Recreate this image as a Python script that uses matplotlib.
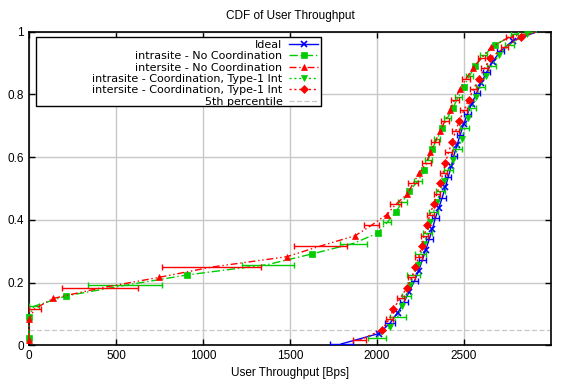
import matplotlib
matplotlib.use("Agg")
import matplotlib.pyplot as plt
from matplotlib.lines import Line2D
from matplotlib.patches import Rectangle
from matplotlib.ticker import FuncFormatter
import numpy as np

plt.rcParams['font.family'] = ['Liberation Sans', 'DejaVu Sans']
plt.rcParams['font.size'] = 8

# CDF levels (the last point of every curve is the closing 1.0)
levels_ideal = [0.005, 0.038, 0.071, 0.105, 0.138, 0.171, 0.205, 0.238, 0.271, 0.305,
                0.338, 0.371, 0.405, 0.438, 0.471, 0.505, 0.538, 0.571, 0.605, 0.638,
                0.671, 0.705, 0.738, 0.771, 0.805, 0.838, 0.871, 0.905, 0.938, 0.971, 1.0]
levels_red = [0.017, 0.05, 0.083, 0.117, 0.15, 0.183, 0.217, 0.25, 0.283, 0.317,
              0.35, 0.383, 0.417, 0.45, 0.483, 0.517, 0.55, 0.583, 0.617, 0.65,
              0.683, 0.717, 0.75, 0.783, 0.817, 0.85, 0.883, 0.917, 0.95, 0.983, 1.0]
levels_green = [0.025, 0.058, 0.092, 0.125, 0.158, 0.192, 0.225, 0.258, 0.292, 0.325,
                0.358, 0.392, 0.425, 0.458, 0.492, 0.525, 0.558, 0.592, 0.625, 0.658,
                0.692, 0.725, 0.758, 0.792, 0.825, 0.858, 0.892, 0.925, 0.958, 0.992, 1.0]

# throughput values and error half-widths (0 = no error bar at that point)
ideal_x = [1795, 2010, 2075, 2120, 2155, 2185, 2215, 2240, 2260, 2280, 2300, 2318, 2335,
           2355, 2375, 2393, 2410, 2427, 2442, 2460, 2478, 2498, 2520, 2545, 2573, 2600,
           2630, 2665, 2710, 2780, 2920]
ideal_err = [67, 0, 30, 0, 25, 0, 22, 0, 20, 0, 20, 0, 20, 0, 20, 0, 18, 0, 18, 0, 18, 0,
             18, 0, 18, 0, 18, 0, 18, 0, 0]

intra_nc_x = [0, 0, 0, 29, 212, 554, 911, 1372, 1628, 1863, 2004, 2058, 2108, 2146, 2185,
              2237, 2270, 2295, 2316, 2345, 2374, 2405, 2437, 2468, 2499, 2530, 2566, 2615,
              2680, 2790, 2920]
intra_nc_err = [0, 0, 0, 29, 0, 213, 0, 149, 0, 77, 0, 22, 0, 25, 0, 23, 0, 20, 0, 20, 0,
                20, 0, 20, 0, 20, 0, 20, 0, 20, 0]

inter_nc_x = [0, 0, 0, 33, 139, 408, 746, 1050, 1482, 1675, 1875, 1968, 2056, 2108, 2175,
              2208, 2244, 2285, 2306, 2335, 2362, 2392, 2418, 2447, 2477, 2512, 2550, 2600,
              2655, 2760, 2920]
inter_nc_err = [0, 0, 0, 35, 0, 220, 0, 285, 0, 150, 0, 44, 0, 33, 0, 29, 0, 25, 0, 22, 0,
                22, 0, 22, 0, 22, 0, 22, 0, 20, 0]

intra_c_x = [2000, 2074, 2120, 2142, 2170, 2191, 2210, 2233, 2251, 2272, 2290, 2306, 2325,
             2345, 2365, 2385, 2410, 2437, 2462, 2489, 2505, 2524, 2547, 2570, 2595, 2624,
             2660, 2700, 2760, 2860, 2920]
intra_c_err = [50, 0, 45, 0, 25, 0, 40, 0, 32, 0, 25, 0, 25, 0, 25, 0, 25, 0, 25, 0, 25, 0,
               25, 0, 25, 0, 25, 0, 25, 0, 0]

inter_c_x = [1900, 2029, 2070, 2095, 2133, 2171, 2200, 2221, 2240, 2258, 2272, 2287, 2305,
             2325, 2345, 2364, 2380, 2393, 2412, 2432, 2452, 2474, 2500, 2527, 2555, 2585,
             2618, 2652, 2735, 2826, 2920]
inter_c_err = [38, 0, 20, 0, 20, 0, 20, 0, 20, 0, 20, 0, 20, 0, 20, 0, 20, 0, 20, 0, 20, 0,
               20, 0, 20, 0, 20, 0, 20, 0, 0]

percentile_5 = 0.05

series = [
    ("Ideal", ideal_x, levels_ideal, ideal_err, "#0000ff", "-", "x", 1),
    ("intrasite - No Coordination", intra_nc_x, levels_green, intra_nc_err, "#00cc00", (0, (6, 2, 1, 2)), "s", 0),
    ("intersite - No Coordination", inter_nc_x, levels_red, inter_nc_err, "#ff0000", (0, (5, 2, 1, 2, 1, 2)), "^", 0),
    ("intrasite - Coordination, Type-1 Int", intra_c_x, levels_green, intra_c_err, "#00cc00", (0, (1.5, 2)), "v", 1),
    ("intersite - Coordination, Type-1 Int", inter_c_x, levels_red, inter_c_err, "#ff0000", (0, (1.5, 2)), "D", 1),
]

fig = plt.figure(figsize=(5.68, 3.85), dpi=100)
ax = fig.add_axes([0.051, 0.1026, 0.919, 0.815])

handles = []
for label, xs, ys, err, color, ls, marker, start in series:
    xs = np.array(xs, dtype=float)
    ys = np.array(ys, dtype=float)
    err = np.array(err, dtype=float)
    ms = 5 if marker != "D" else 4.3
    mew = 1.2 if marker == "x" else 0.5
    ax.plot(xs, ys, color=color, ls=ls, lw=1.0, marker=marker, ms=ms, mew=mew,
            markevery=slice(start, 29 + start, 2), clip_on=False, zorder=3)
    bars = err > 0
    ax.errorbar(xs[bars], ys[bars], xerr=err[bars], fmt="none", ecolor=color,
                elinewidth=1.0, capsize=2.5, capthick=1.0, zorder=3)
    handles.append(Line2D([], [], color=color, ls=ls, lw=1.0, marker=marker, ms=ms,
                          mew=mew, label=label))

ax.axhline(percentile_5, color="#c8c8c8", ls=(0, (4, 2)), lw=0.9, zorder=1)
handles.append(Line2D([], [], color="#c8c8c8", ls=(0, (4, 2)), lw=0.9, label="5th percentile"))

ax.set_xlim(0, 3000)
ax.set_ylim(0, 1)
ax.set_xticks([0, 500, 1000, 1500, 2000, 2500])
ax.set_yticks([0, 0.2, 0.4, 0.6, 0.8, 1])
ax.yaxis.set_major_formatter(FuncFormatter(lambda v, p: "%g" % v))
ax.tick_params(direction="in", top=True, right=True, length=4, width=1, labelsize=8.5)
ax.grid(True, color="#c8c8c8", lw=1.0, zorder=0)
ax.set_axisbelow(True)
for s in ax.spines.values():
    s.set_linewidth(1.2)

ax.set_title("CDF of User Throughput", fontsize=8.5, pad=9)
ax.set_xlabel("User Throughput [Bps]", fontsize=8.5, labelpad=3)

# gnuplot-style key: wide box, text right-aligned next to the samples
key_box = Rectangle((0.0134, 0.763), 0.546, 0.220, transform=ax.transAxes,
                    facecolor="white", edgecolor="black", lw=1.0, zorder=4)
ax.add_patch(key_box)
leg = ax.legend(handles=handles, loc="upper right", bbox_to_anchor=(0.559, 0.983),
                markerfirst=False, prop={"family": "DejaVu Sans", "size": 8},
                handlelength=2.6, handletextpad=0.6, labelspacing=0.12, borderpad=0.25,
                borderaxespad=0, frameon=False)
leg.set_zorder(5)

fig.savefig("out.png", dpi=100)
